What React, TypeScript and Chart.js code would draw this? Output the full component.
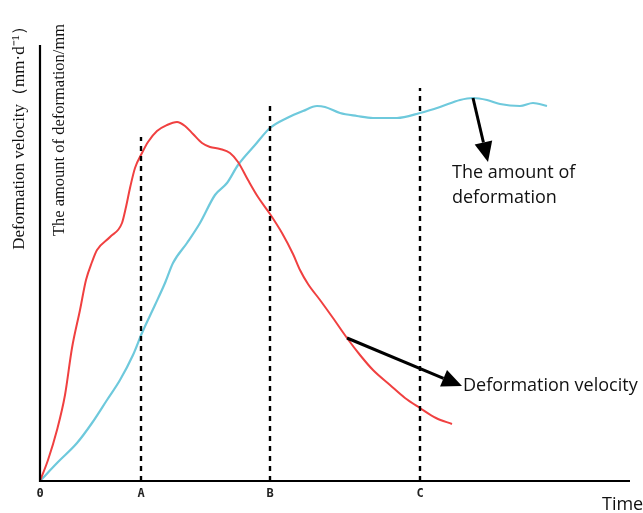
import React, { useEffect, useRef } from "react";
import { Chart, registerables } from "chart.js";

Chart.register(...registerables);

// Time axis positions (arbitrary units) and their labels
const tickValues = [0, 101, 230, 380];
const tickLabels = ["0", "A", "B", "C"];

// Deformation velocity curve (red)
const velocityX = [0, 8, 17, 25, 32, 40, 46, 52, 57, 70, 82, 86, 90, 95, 102, 108, 117, 127, 137, 145, 153, 162, 170, 180, 190, 198, 208, 218, 230, 242, 253, 260, 268, 280, 293, 307, 320, 333, 350, 365, 380, 396, 412];
const velocityY = [0, 21, 51, 86, 133, 171, 201, 219, 231, 244, 258, 274, 293, 313, 328, 339, 350, 356, 359, 355, 347, 338, 334, 332, 328, 319, 301, 284, 267, 248, 227, 211, 197, 181, 163, 143, 126, 111, 96, 83, 73, 63, 57];

// Amount of deformation curve (blue)
const amountX = [0, 18, 37, 52, 67, 80, 93, 102, 115, 125, 133, 147, 160, 175, 187, 198, 215, 230, 247, 263, 277, 285, 300, 317, 333, 357, 380, 400, 420, 433, 447, 460, 480, 493, 507];
const amountY = [0, 19, 38, 58, 81, 101, 126, 148, 176, 198, 218, 238, 258, 286, 298, 316, 336, 353, 363, 370, 375, 374, 368, 365, 363, 363, 368, 374, 381, 383, 381, 377, 375, 378, 375];

// Dashed stage boundaries: x position and top
const stageX = [101, 230, 380];
const stageTop = [344, 378, 393];

const X_MAX = 590;
const Y_MAX = 436;

const toPts = (xs: number[], ys: number[]) => xs.map((x, i) => ({ x, y: ys[i] }));

const annotPlugin = {
  id: "annot",
  afterDatasetsDraw(chart: any) {
    const ctx = chart.ctx as CanvasRenderingContext2D;
    const xs = chart.scales.x;
    const ys = chart.scales.y;
    const px = (v: number) => xs.getPixelForValue(v);
    const py = (v: number) => ys.getPixelForValue(v);
    ctx.save();
    // axes
    ctx.strokeStyle = "#000";
    ctx.lineWidth = 2.2;
    ctx.beginPath();
    ctx.moveTo(px(0), py(Y_MAX));
    ctx.lineTo(px(0), py(0));
    ctx.lineTo(px(X_MAX), py(0));
    ctx.stroke();

    // tick labels
    ctx.fillStyle = "#222";
    ctx.font = "bold 12px 'DejaVu Sans Mono'";
    ctx.textAlign = "center";
    ctx.textBaseline = "middle";
    tickValues.forEach((v, i) => ctx.fillText(tickLabels[i], px(v), py(0) + 13));

    // Time label
    ctx.font = "18px 'Open Sans'";
    ctx.textAlign = "left";
    ctx.textBaseline = "alphabetic";
    ctx.fillStyle = "#111";
    ctx.fillText("Time", 602, 510);

    // y labels
    ctx.font = "17px 'Liberation Serif'";
    ctx.textAlign = "center";
    ctx.textBaseline = "middle";
    ctx.save();
    ctx.translate(20, 134);
    ctx.rotate(-Math.PI / 2);
    ctx.fillText("Deformation velocity（mm·d⁻¹）", 0, 0);
    ctx.restore();
    ctx.font = "16.5px 'Liberation Serif'";
    ctx.save();
    ctx.translate(60, 130);
    ctx.rotate(-Math.PI / 2);
    ctx.fillText("The amount of deformation/mm", 0, 0);
    ctx.restore();

    // arrows
    const arrow = (x1: number, y1: number, x2: number, y2: number) => {
      const a = Math.atan2(y2 - y1, x2 - x1);
      const hl = 20, hw = 9;
      const bx = x2 - hl * Math.cos(a), by = y2 - hl * Math.sin(a);
      ctx.strokeStyle = "#000";
      ctx.lineWidth = 3;
      ctx.beginPath();
      ctx.moveTo(x1, y1);
      ctx.lineTo(bx, by);
      ctx.stroke();
      ctx.fillStyle = "#000";
      ctx.beginPath();
      ctx.moveTo(x2, y2);
      ctx.lineTo(bx + hw * Math.sin(a), by - hw * Math.cos(a));
      ctx.lineTo(bx - hw * Math.sin(a), by + hw * Math.cos(a));
      ctx.closePath();
      ctx.fill();
    };
    arrow(px(433), py(383), px(448), py(319));
    arrow(px(307), py(143), px(422), py(95));

    ctx.fillStyle = "#111";
    ctx.font = "18px 'Open Sans'";
    ctx.textAlign = "left";
    ctx.textBaseline = "middle";
    ctx.fillText("The amount of", 452, 173);
    ctx.fillText("deformation", 452, 198);
    ctx.fillText("Deformation velocity", 463, 386);
    ctx.restore();
  },
};

export default function App() {
  const ref = useRef<HTMLCanvasElement>(null);
  useEffect(() => {
    document.body.style.margin = "0";
    const stageSets = stageX.map((x, i) => ({
      data: [{ x, y: 0 }, { x, y: stageTop[i] }],
      borderColor: "#000",
      borderWidth: 2.4,
      borderDash: [5, 5],
      pointRadius: 0,
      tension: 0,
    }));
    const chart = new Chart(ref.current!, {
      type: "line",
      data: {
        datasets: [
          ...stageSets,
          {
            data: toPts(velocityX, velocityY),
            borderColor: "#f04040",
            borderWidth: 2,
            pointRadius: 0,
            cubicInterpolationMode: "monotone",
          },
          {
            data: toPts(amountX, amountY),
            borderColor: "#6ec9dc",
            borderWidth: 2.2,
            pointRadius: 0,
            cubicInterpolationMode: "monotone",
          },
        ] as any,
      },
      options: {
        responsive: false,
        animation: false,
        devicePixelRatio: 1,
        layout: { padding: { left: 40, right: 13, top: 45, bottom: 32 } },
        plugins: { legend: { display: false }, tooltip: { enabled: false } },
        scales: {
          x: { type: "linear", min: 0, max: X_MAX, display: false },
          y: { type: "linear", min: 0, max: Y_MAX, display: false },
        },
      },
      plugins: [annotPlugin],
    });
    return () => chart.destroy();
  }, []);
  return (
    <div style={{ position: "absolute", left: 0, top: 0, width: 643, height: 513, background: "#fff" }}>
      <canvas ref={ref} width={643} height={513} style={{ display: "block" }} />
    </div>
  );
}
